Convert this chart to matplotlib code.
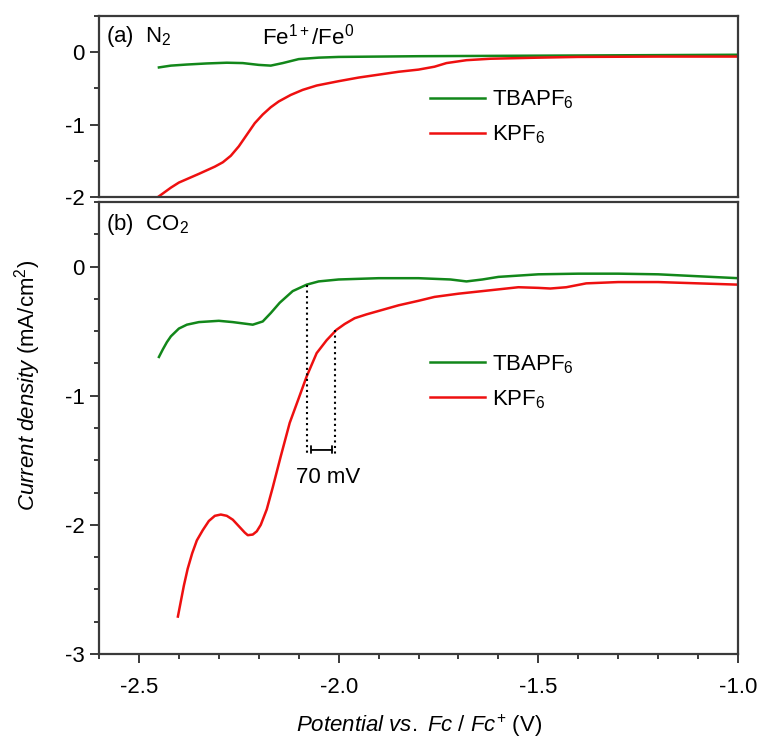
import numpy as np
import matplotlib
matplotlib.use("Agg")
import matplotlib.pyplot as plt
from matplotlib.ticker import MultipleLocator

plt.rcParams['font.family'] = ['Liberation Sans', 'DejaVu Sans']
plt.rcParams['mathtext.fontset'] = 'custom'
plt.rcParams['mathtext.rm'] = 'Liberation Sans'
plt.rcParams['mathtext.it'] = 'Liberation Sans:italic'
plt.rcParams['axes.unicode_minus'] = False

# --- (a) N2 ---
n2_tba_x = [-2.45, -2.42, -2.38, -2.33, -2.28, -2.24, -2.20, -2.17, -2.14, -2.10,
            -2.05, -2.0, -1.9, -1.8, -1.6, -1.4, -1.2, -1.0]
n2_tba_y = [-0.21, -0.185, -0.17, -0.155, -0.145, -0.15, -0.175, -0.185, -0.15, -0.095,
            -0.075, -0.065, -0.06, -0.055, -0.05, -0.045, -0.04, -0.035]
n2_k_x = [-2.45, -2.42, -2.40, -2.35, -2.31, -2.29, -2.27, -2.25, -2.23, -2.21,
          -2.19, -2.17, -2.15, -2.12, -2.09, -2.055, -2.0, -1.95, -1.90, -1.85,
          -1.80, -1.76, -1.73, -1.68, -1.62, -1.5, -1.4, -1.2, -1.0]
n2_k_y = [-1.99, -1.87, -1.80, -1.68, -1.58, -1.52, -1.43, -1.30, -1.14, -0.98,
          -0.86, -0.76, -0.68, -0.59, -0.52, -0.46, -0.40, -0.35, -0.31, -0.27,
          -0.24, -0.20, -0.15, -0.11, -0.09, -0.075, -0.065, -0.06, -0.06]

# --- (b) CO2 ---
co2_tba_x = [-2.45, -2.44, -2.43, -2.42, -2.40, -2.38, -2.35, -2.30, -2.265, -2.215,
             -2.19, -2.17, -2.1475, -2.115, -2.08, -2.05, -2.0, -1.9, -1.8, -1.72,
             -1.68, -1.64, -1.6, -1.5, -1.4, -1.3, -1.2, -1.1, -1.0]
co2_tba_y = [-0.70, -0.64, -0.585, -0.54, -0.48, -0.45, -0.43, -0.42, -0.43, -0.45,
             -0.425, -0.36, -0.28, -0.19, -0.14, -0.115, -0.10, -0.09, -0.09, -0.10,
             -0.115, -0.10, -0.08, -0.06, -0.055, -0.055, -0.06, -0.075, -0.09]
co2_k_x = [-2.4025, -2.395, -2.3875, -2.378, -2.3667, -2.355, -2.34, -2.325, -2.31, -2.295,
           -2.28, -2.265, -2.25, -2.235, -2.2275, -2.215, -2.205, -2.195, -2.18, -2.165,
           -2.145, -2.1225, -2.10, -2.08, -2.055, -2.03, -2.0055, -1.985, -1.96, -1.93,
           -1.89, -1.85, -1.80, -1.76, -1.70, -1.64, -1.55, -1.5, -1.47, -1.43,
           -1.38, -1.3, -1.2, -1.1, -1.0]
co2_k_y = [-2.71, -2.59, -2.47, -2.34, -2.22, -2.12, -2.04, -1.97, -1.93, -1.92,
           -1.93, -1.96, -2.01, -2.06, -2.08, -2.075, -2.05, -2.0, -1.88, -1.71,
           -1.47, -1.21, -1.02, -0.85, -0.67, -0.57, -0.49, -0.445, -0.40, -0.37,
           -0.335, -0.30, -0.265, -0.235, -0.21, -0.19, -0.16, -0.165, -0.17, -0.16,
           -0.13, -0.12, -0.12, -0.13, -0.14]

# onset markers (70 mV shift)
onset_tba = (-2.08, -0.14)
onset_k = (-2.01, -0.49)
marker_bottom = -1.46

GREEN = '#12871a'
RED = '#ee1010'
SPINE = '#3a3a3a'
FS = 16

fig = plt.figure(figsize=(7.64, 7.38), dpi=100)
ax1 = fig.add_axes([0.1296, 0.733, 0.8364, 0.2453])
ax2 = fig.add_axes([0.1296, 0.1138, 0.8364, 0.6125])

for ax in (ax1, ax2):
    for s in ax.spines.values():
        s.set_color(SPINE)
        s.set_linewidth(1.6)
    ax.set_xlim(-2.6, -1.0)
    ax.yaxis.set_major_locator(MultipleLocator(1))
    ax.tick_params(axis='both', which='major', direction='out', length=6.5, width=1.4,
                   color=SPINE, labelsize=FS, pad=4)
    ax.tick_params(axis='both', which='minor', direction='out', length=3.5, width=1.4,
                   color=SPINE)
    ax.yaxis.set_major_formatter(plt.FuncFormatter(lambda v, p: f"{v:.0f}"))

ax1.set_ylim(-2, 0.5)
ax1.yaxis.set_minor_locator(MultipleLocator(0.5))
ax1.tick_params(axis='x', which='both', bottom=False, labelbottom=False)

ax2.set_ylim(-3, 0.5)
ax2.yaxis.set_minor_locator(MultipleLocator(0.25))
ax2.xaxis.set_major_locator(MultipleLocator(0.5))
ax2.xaxis.set_minor_locator(MultipleLocator(0.1))
ax2.xaxis.set_major_formatter(plt.FuncFormatter(lambda v, p: f"{v:.1f}"))
ax2.tick_params(axis='x', which='major', pad=10)

lw = 1.8
ax1.plot(n2_tba_x, n2_tba_y, color=GREEN, lw=lw, label='TBAPF$_6$')
ax1.plot(n2_k_x, n2_k_y, color=RED, lw=lw, label='KPF$_6$')
ax2.plot(co2_tba_x, co2_tba_y, color=GREEN, lw=lw, label='TBAPF$_6$')
ax2.plot(co2_k_x, co2_k_y, color=RED, lw=lw, label='KPF$_6$')

# dotted onset lines and 70 mV bar
ax2.plot([onset_tba[0], onset_tba[0]], [onset_tba[1], marker_bottom], color='black', ls=':', lw=1.5)
ax2.plot([onset_k[0], onset_k[0]], [onset_k[1], marker_bottom], color='black', ls=':', lw=1.5)
ax2.annotate('', xy=(-2.016, -1.42), xytext=(-2.068, -1.42),
             arrowprops=dict(arrowstyle='|-|, widthA=0.25, widthB=0.25', color='black', lw=1.3,
                             shrinkA=0, shrinkB=0))
ax2.text(-2.027, -1.63, '70 mV', ha='center', va='center', fontsize=FS)

leg_kw = dict(frameon=False, fontsize=FS, handlelength=2.48, handletextpad=0.32,
              labelspacing=0.55, borderpad=0, borderaxespad=0, loc='center left')
ax1.legend(bbox_to_anchor=(0.518, 0.44), **leg_kw)
ax2.legend(bbox_to_anchor=(0.518, 0.602), **leg_kw)

ax1.text(0.011, 0.885, '(a)  N$_2$', transform=ax1.transAxes, fontsize=FS, va='center')
ax1.text(0.255, 0.885, 'Fe$^{1+}$/Fe$^0$', transform=ax1.transAxes, fontsize=FS, va='center')
ax2.text(0.011, 0.95, '(b)  CO$_2$', transform=ax2.transAxes, fontsize=FS, va='center')

fig.text(0.036, 0.478, r'$\mathit{Current\ density}$ (mA/cm$^2$)', rotation=90,
         ha='center', va='center', fontsize=FS)
fig.text(0.549, 0.017, r'$\mathit{Potential\ vs.\ Fc\ /\ Fc}^{+}$ (V)', ha='center',
         va='center', fontsize=FS)

fig.savefig('out.png', dpi=100)
